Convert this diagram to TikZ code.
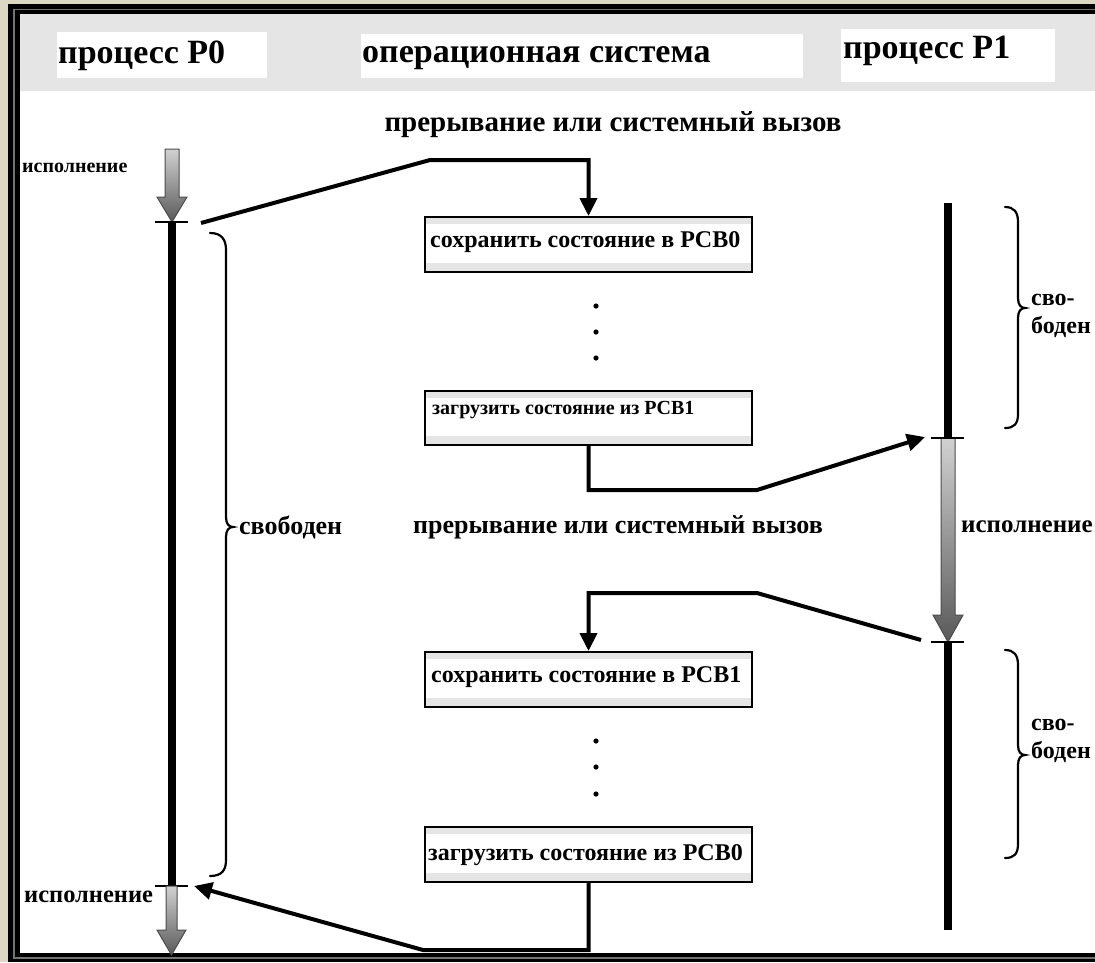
\documentclass[tikz,border=0pt]{standalone}
\usepackage{fontspec}
\setmainfont{Liberation Serif}
\usetikzlibrary{arrows.meta}
\definecolor{beige}{RGB}{221,216,196}
\definecolor{band}{RGB}{229,229,229}
\tikzset{
  conn/.style={line width=4pt, line join=miter},
  arr/.style={conn, -{Triangle[length=18pt,width=17pt]}},
  opbox/.style={draw, line width=2pt, fill=band, minimum width=327pt, minimum height=55pt, inner sep=0pt,
    path picture={\fill[white] ([yshift=-7pt]path picture bounding box.north west) rectangle ([yshift=9pt]path picture bounding box.south east);}},
  hdr/.style={font=\fontsize{34}{34}\selectfont\bfseries, inner sep=0pt},
  lbl/.style={font=\fontsize{24}{24}\selectfont\bfseries, inner sep=0pt},
  bar/.style={line width=8pt},
  tickln/.style={line width=2pt},
  runarrow/.style={draw=black!70, line width=1pt, top color=black!18, bottom color=black!65},
  brc/.style={line width=2.2pt, line cap=round}
}
\begin{document}
\begin{tikzpicture}[x=1pt,y=-1pt]
\useasboundingbox (0,0) rectangle (1095,962);
% frame
\fill[beige] (0,0) rectangle (1095,962);
\fill[black] (8,4) rectangle (1095,962);
\draw[black!55, line width=1.3pt] (1095,9.5) -- (14,9.5) -- (14,958) -- (1095,958);
\fill[white] (20,14) rectangle (1095,953);
\fill[band] (20,14) rectangle (1095,91);
% header
\fill[white] (57,32) rectangle (267,78);
\fill[white] (361,34) rectangle (803,78);
\fill[white] (841,29) rectangle (1055,82);
\node[hdr, anchor=west] (hp0) at (58,56) {процесс P0};
\node[hdr, anchor=west] (hos) at (362,58) {операционная система};
\node[hdr, anchor=west] (hp1) at (843,51) {процесс P1};
\node[lbl, font=\fontsize{29}{29}\selectfont\bfseries] (int1) at (613,125) {прерывание или системный вызов};
% left timeline
\coordinate (lt1) at (172,222);
\coordinate (lt2) at (172,886);
\path[runarrow] (165,149) -- (179,149) -- (179,197) -- (187,197) -- (172,222) -- (157,197) -- (165,197) -- cycle;
\draw[bar] (lt1) -- (lt2);
\draw[tickln] (155,222) -- (188,222);
\draw[tickln] (155,886) -- (188,886);
\path[runarrow] (166,886) -- (177,886) -- (177,930) -- (186,930) -- (171.5,955) -- (157,930) -- (166,930) -- cycle;
\node[lbl, font=\fontsize{20}{20}\selectfont\bfseries, anchor=west] (ex0) at (22,168) {исполнение};
\node[lbl, font=\fontsize{24.5}{24}\selectfont\bfseries, anchor=west] (ex0b) at (24,897) {исполнение};
\draw[brc] (210,233) .. controls (222,233) and (226,240) .. (226,250) -- (226,517) .. controls (226,524) and (229,527) .. (233,527) .. controls (229,527) and (226,530) .. (226,537) -- (226,860) .. controls (226,870) and (222,876) .. (210,876);
\node[lbl, font=\fontsize{26}{26}\selectfont\bfseries, anchor=west] (fr0) at (239,527) {свободен};
% right timeline
\coordinate (rt0) at (948,203);
\coordinate (rt1) at (948,438);
\coordinate (rt2) at (948,642);
\coordinate (rt3) at (948,930);
\draw[bar] (rt0) -- (rt1);
\draw[bar] (rt2) -- (rt3);
\path[runarrow] (941,438) -- (955,438) -- (955,615) -- (963,615) -- (948,642) -- (933,615) -- (941,615) -- cycle;
\draw[tickln] (931,438) -- (964,438);
\draw[tickln] (931,642) -- (964,642);
\node[lbl, font=\fontsize{25}{25}\selectfont\bfseries, anchor=west] (ex1) at (961,527) {исполнение};
\draw[brc] (1005,207) .. controls (1014,207) and (1018,212) .. (1018,222) -- (1018,298) .. controls (1018,305) and (1021,308) .. (1025,308) .. controls (1021,308) and (1018,311) .. (1018,318) -- (1018,414) .. controls (1018,424) and (1014,428) .. (1005,428);
\node[lbl, anchor=west, align=left, font=\fontsize{24}{28}\selectfont\bfseries] (fr1) at (1031,316) {сво-\\боден};
\draw[brc] (1005,650) .. controls (1014,650) and (1018,655) .. (1018,665) -- (1018,745) .. controls (1018,752) and (1021,755) .. (1025,755) .. controls (1021,755) and (1018,758) .. (1018,765) -- (1018,844) .. controls (1018,854) and (1014,858) .. (1005,858);
\node[lbl, anchor=west, align=left, font=\fontsize{24}{28}\selectfont\bfseries] (fr2) at (1031,741) {сво-\\боден};
% OS boxes
\node[opbox] (b1) at (588.5,244.5) {};
\node[lbl, anchor=west] (t1) at (430,242) {сохранить состояние в PCB0};
\node[opbox, minimum height=54pt] (b2) at (588.5,418) {};
\node[lbl, font=\fontsize{20}{20}\selectfont\bfseries, anchor=west] (t2) at (432,410) {загрузить состояние из PCB1};
\node[opbox] (b3) at (588.5,679.5) {};
\node[lbl, anchor=west] (t3) at (431,677) {сохранить состояние в PCB1};
\node[opbox] (b4) at (588.5,854.5) {};
\node[lbl, anchor=west] (t4) at (428,855) {загрузить состояние из PCB0};
\foreach \y in {306,332,358,741,767,794} \fill (596,\y) circle (2.6pt);
\node[lbl, font=\fontsize{26}{26}\selectfont\bfseries] (int2) at (618,527) {прерывание или системный вызов};
% connectors
\coordinate (s1) at (201,223);
\coordinate (k1) at (430,160);
\draw[arr] (s1) -- (k1) -- (k1 -| b1.north) -- (b1.north);
\coordinate (k2) at (757,490);
\coordinate (e2) at (925,437);
\draw[arr] (b2.south) -- (b2.south |- k2) -- (k2) -- (e2);
\coordinate (s3) at (921,640);
\coordinate (k3) at (757,593);
\draw[arr] (s3) -- (k3) -- (k3 -| b3.north) -- (b3.north);
\coordinate (k4) at (423,950);
\coordinate (e4) at (194,886);
\draw[arr] (b4.south) -- (b4.south |- k4) -- (k4) -- (e4);
\end{tikzpicture}
\end{document}
